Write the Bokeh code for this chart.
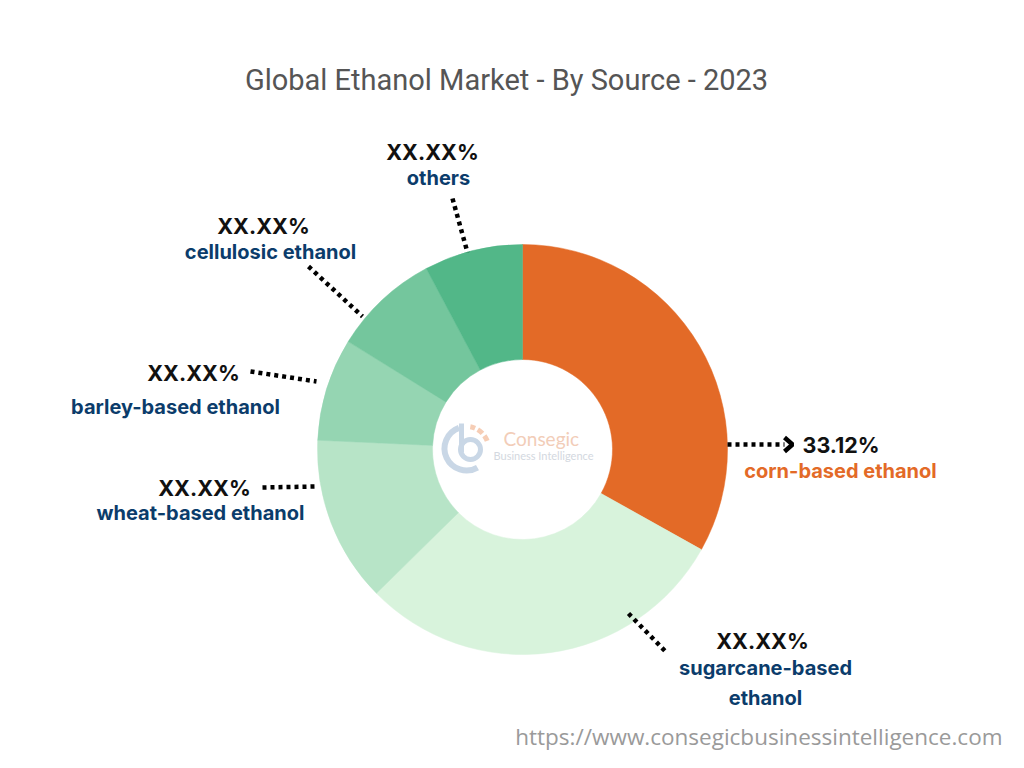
import math
from bokeh.plotting import figure
from bokeh.models import Range1d, ColumnDataSource
from bokeh.core.properties import value
from bokeh.embed import file_html
from bokeh.resources import INLINE

# ---- data ----
categories = ["corn-based ethanol", "sugarcane-based ethanol", "wheat-based ethanol",
              "barley-based ethanol", "cellulosic ethanol", "others"]
shares = [33.12, 29.5, 13.1, 8.1, 8.4, 7.78]
value_labels = ["33.12%", "XX.XX%", "XX.XX%", "XX.XX%", "XX.XX%", "XX.XX%"]
colors = ["#E36A27", "#D8F3DC", "#B7E4C7", "#95D5B2", "#74C69D", "#52B788"]

title_text = "Global Ethanol Market - By Source - 2023"
url_text = "https://www.consegicbusinessintelligence.com"

W, H = 1008, 752
def Y(py):  # screen pixel y -> data y
    return 768 - py

p = figure(width=W, height=H, output_backend="svg", toolbar_location=None,
           x_range=Range1d(0, 1008), y_range=Range1d(16, 768),
           min_border=0, outline_line_color=None)
p.axis.visible = False
p.grid.visible = False
p.background_fill_color = "white"
p.border_fill_color = "white"

# ---- donut ----
cx, cy = 522, Y(449)
total = sum(shares)
starts, ends = [], []
acc = 0.0
for s in shares:
    starts.append(math.pi / 2 - 2 * math.pi * acc / total)
    acc += s
    ends.append(math.pi / 2 - 2 * math.pi * acc / total)
src = ColumnDataSource(dict(start=starts, end=ends, color=colors, cat=categories))
p.annular_wedge(x=cx, y=cy, inner_radius=90, outer_radius=205,
                start_angle="start", end_angle="end", direction="clock",
                fill_color="color", line_color="color", line_width=0.5, source=src)

# ---- logo watermark ----
p.arc(x=466, y=Y(448), radius=22, start_angle=math.radians(110), end_angle=math.radians(300),
      line_color="#C9D7E6", line_width=6)
p.line(x=[461, 461], y=[Y(423), Y(452)], line_color="#C9D7E6", line_width=5)
p.scatter(x=[470], y=[Y(449)], size=20, marker="circle", fill_color=None,
          line_color="#C9D7E6", line_width=5)
p.arc(x=466, y=Y(448), radius=22, start_angle=math.radians(20), end_angle=math.radians(80),
      line_color="#F6CDB5", line_width=5, line_dash="6 3")
p.text(x=[503], y=[Y(438)], text=["Consegic"], text_font=value("Lato"), text_font_size="19px",
       text_color="#F2CDB8", text_baseline="middle", text_align="left")
p.text(x=[493], y=[Y(455)], text=["Business Intelligence"], text_font=value("Lato"),
       text_font_size="11px", text_color="#D3D8E0", text_baseline="middle", text_align="left")

# ---- leader lines ----
leaders = [
    ([727, 784], [444, 444]),   # corn
    ([628, 666], [613, 652]),   # sugarcane
    ([262, 315], [487, 486]),   # wheat
    ([250, 316], [371, 381]),   # barley
    ([308, 362], [266, 316]),   # cellulosic
    ([452, 467], [198, 252]),   # others
]
for xs, ys in leaders:
    p.line(x=xs, y=[Y(v) for v in ys], line_color="black", line_width=4.5, line_dash="4 4")
# arrowhead for corn
p.line(x=[784, 792, 784], y=[Y(437), Y(444), Y(451)], line_color="black", line_width=4.5)

# ---- labels ----
val_pos = [(802, 444, "left"), (762, 640, "center"), (204, 487, "center"),
           (193, 372, "center"), (263, 225, "center"), (432, 151, "center")]
name_pos = [(840, 470), (765, 667), (200, 512), (175, 406), (270, 251), (438, 177)]
name_lines = [["corn-based ethanol"], ["sugarcane-based", "ethanol"], ["wheat-based ethanol"],
              ["barley-based ethanol"], ["cellulosic ethanol"], ["others"]]
for i in range(len(categories)):
    vx, vy, al = val_pos[i]
    p.text(x=[vx], y=[Y(vy)], text=[value_labels[i]], text_font=value("Inter"),
           text_font_style="bold", text_font_size="21.5px", text_color="#111111",
           text_align=al, text_baseline="middle")
    nx, ny = name_pos[i]
    col = "#E36A27" if i == 0 else "#0B3C6B"
    for j, ln in enumerate(name_lines[i]):
        p.text(x=[nx], y=[Y(ny + 30 * j)], text=[ln], text_font=value("Inter"),
               text_font_style="bold", text_font_size="20px", text_color=col,
               text_align="center", text_baseline="middle")

# ---- title & url ----
p.text(x=[506], y=[Y(79)], text=[title_text], text_font=value("Roboto"),
       text_font_size="29px", text_color="#555555", text_align="center", text_baseline="middle")
p.text(x=[1002], y=[Y(736)], text=[url_text], text_font=value("Open Sans"),
       text_font_size="22.5px", text_color="#9A9A9A", text_align="right", text_baseline="middle")

open("out.html", "w").write(file_html(p, INLINE))
